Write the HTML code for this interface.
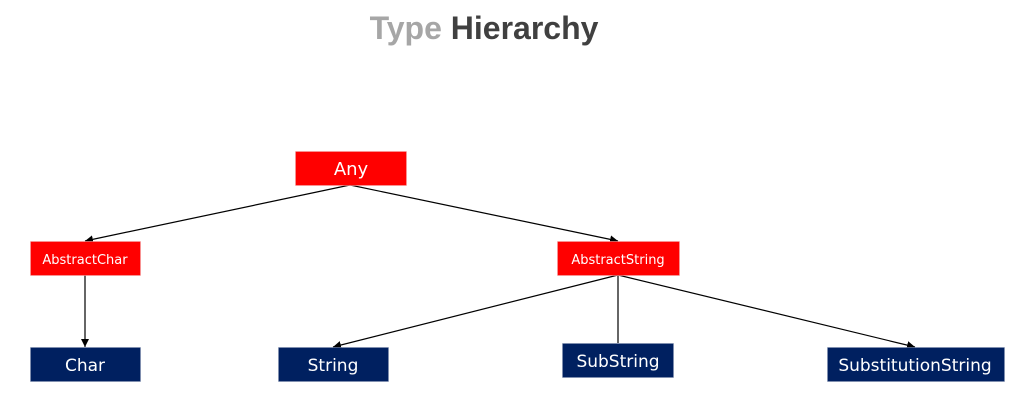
<!DOCTYPE html>
<html><head><meta charset="utf-8"><style>
html,body{margin:0;padding:0;background:#fff;width:1026px;height:406px;overflow:hidden}
svg{display:block}
text{font-family:"DejaVu Sans","Liberation Sans",sans-serif}
</style></head><body>
<svg width="1026" height="406" viewBox="0 0 1026 406" xmlns="http://www.w3.org/2000/svg">
<defs><marker id="a" viewBox="0 0 10 10" refX="10" refY="5" markerWidth="8" markerHeight="8" orient="auto" markerUnits="userSpaceOnUse"><path d="M0,0 L10,5 L0,10 z" fill="#000"/></marker></defs>
<text x="484" y="39" text-anchor="middle" font-size="32" font-weight="bold" style="font-family:'Liberation Sans',sans-serif"><tspan fill="#a6a6a6">Type </tspan><tspan fill="#404040">Hierarchy</tspan></text>
<g stroke="#000" stroke-width="1.2" fill="none">
<line x1="350" y1="185" x2="85" y2="241" marker-end="url(#a)"/>
<line x1="350" y1="185" x2="618" y2="241" marker-end="url(#a)"/>
<line x1="85" y1="275" x2="85" y2="347" marker-end="url(#a)"/>
<line x1="618" y1="275" x2="333" y2="347" marker-end="url(#a)"/>
<line x1="618" y1="275" x2="618" y2="343"/>
<line x1="618" y1="275" x2="915" y2="347" marker-end="url(#a)"/>
</g>
<g fill="#ff0000" stroke="#f4a0a0" stroke-width="0.6">
<rect x="295.5" y="151.5" width="111" height="34"/>
<rect x="30.5" y="241.5" width="110" height="34"/>
<rect x="557.5" y="241.5" width="122" height="34"/>
</g>
<g fill="#002060" stroke="#8090b0" stroke-width="0.6">
<rect x="30.5" y="347.5" width="110" height="34"/>
<rect x="278.5" y="347.5" width="110" height="34"/>
<rect x="562.5" y="343.5" width="111" height="34"/>
<rect x="827.5" y="347.5" width="177" height="34"/>
</g>
<g fill="#fff" text-anchor="middle">
<text x="351" y="175" font-size="18">Any</text>
<text x="85" y="264" font-size="13">AbstractChar</text>
<text x="618" y="264" font-size="13">AbstractString</text>
<text x="85" y="371" font-size="17">Char</text>
<text x="333" y="371" font-size="17">String</text>
<text x="618" y="367" font-size="17">SubString</text>
<text x="915" y="371" font-size="17">SubstitutionString</text>
</g>
</svg>
</body></html>
